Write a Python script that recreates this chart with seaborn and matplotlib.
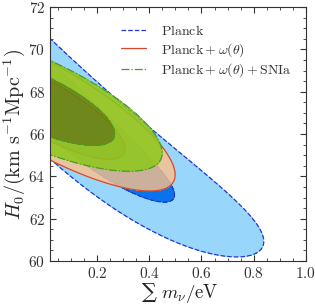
import numpy as np
import matplotlib
matplotlib.use('Agg')
import matplotlib.pyplot as plt
import seaborn as sns

# posterior shapes: mnu ~ N(mean, sd) cut at 0,
# H0 | mnu ~ N(h0_zero + slope*mnu + curv*mnu^2, h0_sd)
labels = [r'$\mathrm{Planck}$',
          r'$\mathrm{Planck}+\omega(\theta)$',
          r'$\mathrm{Planck}+\omega(\theta)+\mathrm{SNIa}$']
mnu_mean = [-0.11, 0.0, -0.05]
mnu_sd = [0.376, 0.204, 0.199]
h0_zero = [67.9, 67.22, 67.35]
h0_slope = [-11.5, -6.3, -5.0]
h0_curv = [3.8, 0.0, 0.0]
h0_sd = [1.137, 0.95, 0.894]
cl = [0.95, 0.68]

fill_95 = ['#98d6fc', '#fdc189', '#8dc819']
fill_68 = ['#0873eb', '#dca06a', '#638609']
alphas = [1.0, 0.8, 0.85]
edges = ['#2536d0', '#d9472b', '#4a9a2a']
styles = ['--', '-', '-.']

sns.set_theme(style='ticks')
plt.rcParams['font.family'] = 'serif'
plt.rcParams['font.serif'] = ['cmr10']
plt.rcParams['mathtext.fontset'] = 'cm'
plt.rcParams['axes.formatter.use_mathtext'] = True
plt.rcParams['axes.unicode_minus'] = False


def hpd_levels(p, fracs):
    s = np.sort(p.ravel())[::-1]
    c = np.cumsum(s)
    c /= c[-1]
    return [s[np.searchsorted(c, f)] for f in fracs]


mnu = np.linspace(0, 1.3, 500)
h0 = np.linspace(56, 76, 500)
X, Y = np.meshgrid(mnu, h0)

fig = plt.figure(figsize=(3.15, 3.05), dpi=100)
ax = fig.add_axes([0.159, 0.144, 0.812, 0.833])

for i in range(len(labels)):
    mid = h0_zero[i] + h0_slope[i] * X + h0_curv[i] * X ** 2
    chi2 = ((X - mnu_mean[i]) / mnu_sd[i]) ** 2 + ((Y - mid) / h0_sd[i]) ** 2
    p = np.exp(-0.5 * chi2)
    t95, t68 = hpd_levels(p, cl)
    ax.contourf(X, Y, p, levels=[t95, t68, p.max() * 1.01],
                colors=[fill_95[i], fill_68[i]], alpha=alphas[i],
                zorder=1 + 2 * i)
    ax.contour(X, Y, p, levels=[t95, t68], colors=edges[i],
               linestyles=styles[i], linewidths=0.9, zorder=2 + 2 * i)
    ax.plot([], [], color=edges[i], ls=styles[i], lw=0.9, label=labels[i])

ax.set_xlim(0.02, 1.0)
ax.set_ylim(60, 72)
ax.set_xticks([0.2, 0.4, 0.6, 0.8, 1.0])
ax.set_xticks(np.arange(0.05, 1.0, 0.05), minor=True)
ax.set_yticks(np.arange(60, 73, 2))
ax.set_yticks(np.arange(60, 72.1, 0.5), minor=True)
ax.tick_params(which='both', direction='in', top=True, right=True,
               labelsize=11, colors='#333333', labelcolor='#333333')
ax.tick_params(which='major', length=4, width=0.8)
ax.tick_params(which='minor', length=2, width=0.6)
for s in ax.spines.values():
    s.set_linewidth(0.8)
    s.set_color('#333333')
    s.set_zorder(10)

# x label: sum sign in a font that has it at text size, rest in cm mathtext
ax.text(0.357, -0.144, '\u2211', transform=ax.transAxes, ha='left',
        va='baseline', fontsize=15, color='#222222',
        family=['DejaVu Serif', 'DejaVu Sans'])
ax.text(0.432, -0.144, r'$m_\nu/\mathrm{eV}$', transform=ax.transAxes,
        ha='left', va='baseline', fontsize=13.5, color='#222222')
ax.set_ylabel(r'$H_0/(\mathrm{km\ s^{-1}Mpc^{-1}})$', fontsize=14.5, labelpad=1)

ax.legend(loc='upper left', bbox_to_anchor=(0.255, 0.955), borderaxespad=0,
          frameon=False, fontsize=10, handlelength=1.8, labelspacing=0.2,
          handletextpad=1.1, labelcolor='#333333')

fig.savefig('out.png', dpi=100)
